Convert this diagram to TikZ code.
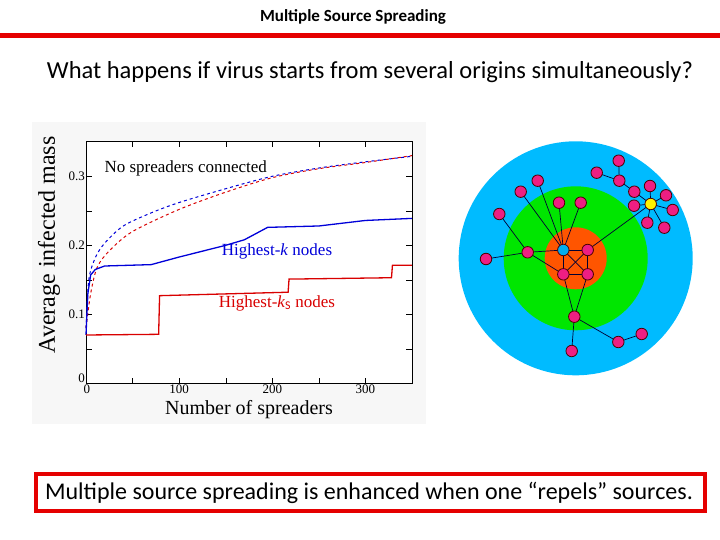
\documentclass[tikz,border=0pt]{standalone}
\usepackage{fontspec}
\setmainfont{Carlito}
\newfontfamily\tms{Liberation Serif}
\begin{document}
\begin{tikzpicture}[x=1pt,y=-1pt,
  nd/.style={circle,draw=black!70!red,line width=0.8pt,fill=magenta!80!red!90!white,minimum size=11.5pt,inner sep=0pt},
  ed/.style={draw=black!80!blue,line width=0.7pt},
  tl/.style={font=\tms\fontsize{13}{13}\selectfont,inner sep=1pt}]
\useasboundingbox (0,0) rectangle (720,540);
\node[font=\bfseries\fontsize{17}{18}\selectfont] (title) at (353,17) {Multiple Source Spreading};
\fill[red!90!black] (0,33) rectangle (720,38);
\node[font=\fontsize{24.5}{26}\selectfont] (sub) at (370,72) {What happens if virus starts from several origins simultaneously?};
\draw[red!90!black,line width=4pt] (36,474) rectangle (705,511);
\node[font=\fontsize{24}{26}\selectfont] (bot) at (369,492.5) {Multiple source spreading is enhanced when one “repels” sources.};
% plot
\fill[black!3] (32,122) rectangle (426,424);
\fill[white] (86,141.7) rectangle (411.7,383.3);
\begin{scope}[shift={(86,383.3)},x=0.9314pt,y=690pt]
\draw[line width=0.6pt] (0,0) rectangle (350,0.35);
\foreach \t in {50,100,...,300}{\draw (\t,0)--(\t,0.007); \draw (\t,0.35)--(\t,0.343);}
\foreach \t in {100,200,300}{\node[tl,below] (xt\t) at (\t,0) {\t};}
\foreach \t in {0.05,0.1,...,0.31}{\draw (0,\t)--(6,\t); \draw (350,\t)--(344,\t);}
\foreach \t in {0.1,0.2,0.3}{\node[tl,left] (yt\t) at (0,\t) {\t};}
\node[tl,left] (y0) at (0,0.008) {0};
\node[tl,below] (x0) at (1,0) {0};
\draw[blue!85!black,line width=1pt,dashed] plot[smooth] coordinates {(0,0.08)(3,0.15)(10,0.182)(20,0.203)(40,0.228)(70,0.247)(100,0.262)(150,0.282)(200,0.3)(250,0.312)(300,0.321)(350,0.329)};
\draw[red!85!black,line width=1pt,dashed] plot[smooth] coordinates {(0,0.08)(5,0.13)(12,0.168)(25,0.192)(50,0.22)(100,0.252)(150,0.277)(200,0.298)(250,0.311)(300,0.32)(350,0.33)};
\draw[blue!85!black,line width=1.3pt] plot coordinates {(0,0.07)(2,0.13)(5,0.157)(10,0.165)(20,0.17)(70,0.172)(100,0.183)(150,0.2)(170,0.208)(195,0.226)(250,0.228)(300,0.236)(350,0.239)};
\draw[red!85!black,line width=1.3pt] (0,0.07)--(78,0.071)--(79,0.127)--(217,0.132)--(218,0.151)--(328,0.153)--(329,0.171)--(350,0.171);
\end{scope}
\node[font=\tms\fontsize{17}{17}\selectfont,anchor=west] (nsc) at (101,168) {No spreaders connected};
\node[font=\tms\fontsize{17}{17}\selectfont,text=blue!85!black] (hk) at (277,251) {Highest-\textit{k} nodes};
\node[font=\tms\fontsize{17}{17}\selectfont,text=red!85!black] (hks) at (277,303) {Highest-\textit{k}$_{\mathrm{S}}$ nodes};
\node[font=\tms\fontsize{24}{24}\selectfont,rotate=90] (ylab) at (49,245) {Average infected mass};
\node[font=\tms\fontsize{20}{20}\selectfont] (xlab) at (249,410) {Number of spreaders};
% network
\fill[fill={rgb,255:red,0;green,187;blue,255}] (575.7,258.3) circle (117);
\fill[fill={rgb,255:red,0;green,230;blue,0}] (575.7,258.3) circle (72);
\fill[fill={rgb,255:red,255;green,85;blue,0}] (575.7,258.3) circle (31);
\foreach \n/\x/\y in {n1/587.7/250,n2/563.3/274.3,n3/587.7/274.3,n4/527.7/252.3,n5/486/259,n6/499.3/214,n7/520.7/191.7,n8/537.7/180.7,n9/559/202.7,n10/580.7/202.7,n11/634.3/191.7,n12/634/205.7,n13/650/186,n14/666/195.3,n15/672.7/210,n16/647.3/222.7,n17/664.3/227.7,n18/619.3/180.7,n19/618.7/160.7,n20/596.7/172.7,n21/574.3/316.7,n22/571.7/351,n23/618.3/342,n24/641.7/334}
  {\coordinate (\n) at (\x,\y);}
\coordinate (c) at (563.3,250);
\coordinate (yy) at (650.7,204);
\foreach \a/\b in {c/n1,c/n2,c/n3,c/n4,c/n7,c/n8,c/n9,c/n10,n1/n2,n1/n3,n2/n3,n4/n5,n4/n6,n4/n2,n2/n21,n3/n21,n21/n22,n21/n23,n23/n24,n1/yy,yy/n11,yy/n12,yy/n13,yy/n14,yy/n15,yy/n16,yy/n17,n11/n18,n18/n19,n18/n20}
  {\draw[ed] (\a)--(\b);}
\foreach \n in {n1,n2,n3,n4,n5,n6,n7,n8,n9,n10,n11,n12,n13,n14,n15,n16,n17,n18,n19,n20,n21,n22,n23,n24}
  {\node[nd] (d\n) at (\n) {};}
\node[nd,fill=cyan] (dc) at (c) {};
\node[nd,fill=yellow] (dy) at (yy) {};
\end{tikzpicture}
\end{document}
